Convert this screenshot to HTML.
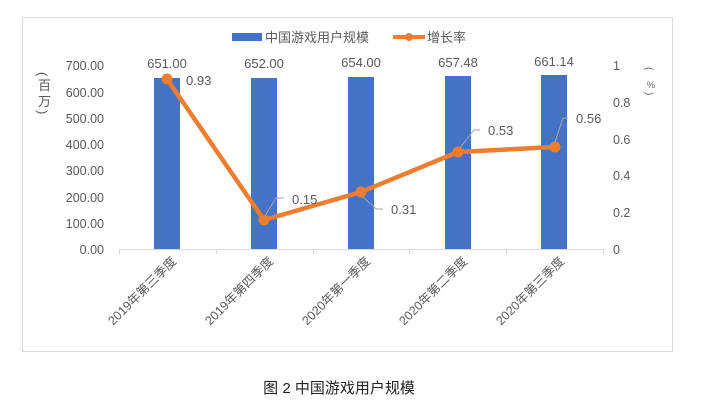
<!DOCTYPE html>
<html><head><meta charset="utf-8"><style>
body{margin:0;background:#fff;}
svg text{font-family:"Liberation Sans","Noto Sans CJK SC",sans-serif;fill:#595959;}
</style></head><body>
<svg width="701" height="409" xmlns="http://www.w3.org/2000/svg">
<rect x="22.5" y="17.5" width="650" height="334" fill="#fff" stroke="#d9d9d9"/>
<!-- legend -->
<rect x="232" y="33" width="30" height="8" fill="#4472c4"/>
<text x="265" y="42" font-size="13">中国游戏用户规模</text>
<line x1="393" y1="37" x2="425" y2="37" stroke="#ed7d31" stroke-width="4"/>
<circle cx="409" cy="37" r="4" fill="#ed7d31"/>
<text x="427" y="42" font-size="13">增长率</text>
<!-- left axis -->
<g font-size="12.5" text-anchor="end">
<text x="104" y="70">700.00</text><text x="104" y="97">600.00</text>
<text x="104" y="123">500.00</text><text x="104" y="149">400.00</text>
<text x="104" y="175">300.00</text><text x="104" y="202">200.00</text>
<text x="104" y="228">100.00</text><text x="104" y="254">0.00</text>
</g>
<g font-size="12.5">
<text x="613" y="70">1</text><text x="613" y="107">0.8</text>
<text x="613" y="144">0.6</text><text x="613" y="180">0.4</text>
<text x="613" y="217">0.2</text><text x="613" y="254">0</text>
</g>
<text transform="translate(38,72) rotate(90)" font-size="13">(</text>
<text x="38" y="90" font-size="13">百</text>
<text x="38" y="106" font-size="13">万</text>
<text transform="translate(38,110) rotate(90)" font-size="13">)</text>
<text transform="translate(646,67) rotate(90)" font-size="10">(</text>
<text x="647" y="88" font-size="9">%</text>
<text transform="translate(646,92) rotate(90)" font-size="10">)</text>
<!-- axis -->
<line x1="119" y1="249.5" x2="603" y2="249.5" stroke="#d9d9d9"/>
<g stroke="#d9d9d9"><line x1="119.5" y1="249" x2="119.5" y2="254"/><line x1="216.5" y1="249" x2="216.5" y2="254"/><line x1="313.5" y1="249" x2="313.5" y2="254"/><line x1="409.5" y1="249" x2="409.5" y2="254"/><line x1="506.5" y1="249" x2="506.5" y2="254"/><line x1="603.5" y1="249" x2="603.5" y2="254"/></g>
<!-- bars -->
<g fill="#4472c4">
<rect x="154" y="78" width="26" height="171"/>
<rect x="251" y="78" width="26" height="171"/>
<rect x="348" y="77" width="26" height="172"/>
<rect x="445" y="76" width="26" height="173"/>
<rect x="541" y="75" width="26" height="174"/>
</g>
<g font-size="13" text-anchor="middle">
<text x="167" y="68">651.00</text><text x="264" y="68">652.00</text>
<text x="361" y="67">654.00</text><text x="458" y="67">657.48</text>
<text x="554" y="66">661.14</text>
</g>
<!-- leaders -->
<g stroke="#a6a6a6" fill="none">
<polyline points="265,216 276,198 284,198"/>
<polyline points="362,196 376,209 383,209"/>
<polyline points="459,149 474,130 480,130"/>
<polyline points="555,142 563,118 568,118"/>
</g>
<polyline points="167,79 264,220 361,192 458,152 555,147" fill="none" stroke="#ed7d31" stroke-width="4.5" stroke-linejoin="round"/>
<g fill="#ed7d31">
<circle cx="167" cy="79" r="5.5"/><circle cx="264" cy="220" r="5.5"/>
<circle cx="361" cy="192" r="5.5"/><circle cx="458" cy="152" r="5.5"/>
<circle cx="555" cy="147" r="5.5"/>
</g>
<g font-size="13">
<text x="186" y="85">0.93</text><text x="292" y="204">0.15</text>
<text x="391" y="214">0.31</text><text x="488" y="135">0.53</text>
<text x="576" y="123">0.56</text>
</g>
<!-- category labels -->
<g font-size="12.5" text-anchor="end">
<text transform="translate(177,262) rotate(-45)">2019年第三季度</text>
<text transform="translate(274,262) rotate(-45)">2019年第四季度</text>
<text transform="translate(371,262) rotate(-45)">2020年第一季度</text>
<text transform="translate(468,262) rotate(-45)">2020年第二季度</text>
<text transform="translate(565,262) rotate(-45)">2020年第三季度</text>
</g>
<text x="339" y="393" font-size="15" text-anchor="middle" style="fill:#222">图 2 中国游戏用户规模</text>
</svg>
</body></html>
